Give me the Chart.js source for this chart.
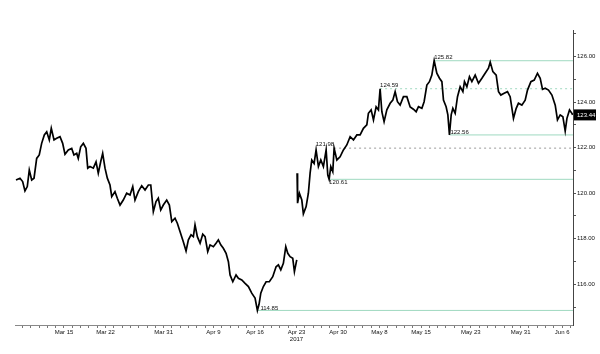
<!DOCTYPE html>
<html><head><meta charset="utf-8">
<script src="https://cdn.jsdelivr.net/npm/chart.js@4.4.0/dist/chart.umd.min.js"></script>
<style>html,body{margin:0;padding:0;background:#fff;}#wrap{width:600px;height:354px;}</style>
</head><body><div id="wrap"><canvas id="c" width="600" height="354"></canvas></div>
<script>
// ---- data (x = trading-day index, Mar 15 = 0) ----
const days1 = [-5.78,-5.30,-4.98,-4.70,-4.42,-4.18,-3.89,-3.61,-3.29,-2.98,
-2.69,-2.37,-2.08,-1.77,-1.53,-1.20,-0.88,-0.48,-0.16,0.12,
0.52,0.93,1.20,1.53,1.72,2.01,2.33,2.65,2.86,3.13,
3.53,3.86,4.13,4.42,4.66,4.94,5.22,5.54,5.75,6.14,
6.42,6.75,7.14,7.55,7.95,8.28,8.55,8.95,9.36,9.76,
10.16,10.45,10.76,11.08,11.36,11.65,11.96,12.37,12.69,12.98,
13.37,13.65,13.98,14.37,14.70,14.98,15.30,15.58,15.78,16.06,
16.39,16.71,16.99,17.31,17.59,17.99,18.31,18.59,18.88,19.19,
19.52,19.80,20.00,20.33,20.72,21.00,21.41,21.81,22.21,22.61,
23.01,23.29,23.49,23.70,24.01,24.34,24.73,25.14,25.54,25.82,
26.11,26.42,26.71,26.95,27.23,27.55,27.75,28.03];
const prices1 = [120.58,120.66,120.51,120.10,120.29,121.02,120.58,120.66,121.53,121.68,
122.19,122.56,122.70,122.34,122.85,122.34,122.41,122.48,122.19,121.71,
121.90,121.97,121.68,121.75,121.53,122.04,122.19,121.97,121.10,121.17,
121.10,121.38,120.88,121.38,121.75,121.10,120.66,120.36,119.85,120.07,
119.78,119.48,119.70,120.00,119.92,120.29,119.70,120.07,120.33,120.14,
120.36,120.36,119.19,119.63,119.78,119.26,119.48,119.70,119.48,118.75,
118.90,118.68,118.31,117.87,117.46,117.95,118.17,118.09,118.61,118.09,
117.80,118.20,118.09,117.43,117.73,117.65,117.80,117.95,117.73,117.58,
117.36,116.99,116.41,116.11,116.41,116.26,116.19,116.04,115.90,115.61,
115.39,114.85,115.12,115.61,115.90,116.11,116.11,116.33,116.77,116.85,
116.63,116.92,117.65,117.36,117.21,117.14,116.55,117.07];
const days2 = [28.07,28.13,28.35,28.64,28.83,29.16,29.43,29.64,29.84,30.12,
30.36,30.64,30.93,31.24,31.57,31.77,31.93,32.13,32.37,32.53,
32.86,33.25,33.65,34.06,34.46,34.86,35.27,35.66,36.06,36.47,
36.66,36.99,37.27,37.59,37.87,38.07,38.28,38.55,38.88,39.28,
39.60,39.88,40.16,40.48,40.88,41.29,41.69,42.08,42.41,42.69,
43.10,43.37,43.70,44.01,44.30,44.58,44.90,45.22,45.51,45.70,
46.02,46.23,46.42,46.63,46.83,47.11,47.39,47.71,48.04,48.23,
48.52,48.83,49.12,49.52,49.92,50.33,50.72,51.12,51.33,51.65,
52.05,52.33,52.61,53.01,53.41,53.73,54.13,54.46,54.73,55.14,
55.54,55.82,56.23,56.63,57.02,57.35,57.63,57.95,58.35,58.76,
59.16,59.43,59.76,60.08,60.36,60.57,60.88,61.17,61.26];
const prices2 = [120.88,119.56,120.00,119.70,119.09,119.41,120.00,120.88,121.46,121.31,
121.90,121.17,121.46,121.17,121.90,120.80,120.61,121.17,120.95,121.98,
121.46,121.60,121.90,122.12,122.48,122.34,122.56,122.56,122.85,123.00,
123.51,123.66,123.22,123.80,123.66,124.59,123.58,123.14,123.66,123.95,
124.09,124.46,124.02,123.87,124.24,124.24,123.79,123.69,123.58,123.80,
123.73,124.02,124.75,124.90,125.19,125.82,125.27,125.05,124.90,124.09,
123.80,123.44,122.56,123.44,123.73,123.51,124.24,124.68,124.46,124.90,
124.68,125.12,124.90,125.19,124.83,125.05,125.27,125.49,125.76,125.34,
125.19,124.46,124.31,124.39,124.46,124.24,123.29,123.73,123.95,123.87,
124.09,124.53,124.90,124.97,125.27,125.05,124.56,124.61,124.53,124.31,
123.87,123.22,123.44,123.36,122.73,123.29,123.66,123.51,123.44];
const tickDays = [0,5,12,18,23,28,33,38,43,49,55,60];
const tickLabels = ['Mar 15','Mar 22','Mar 31','Apr 9','Apr 16',['Apr 23','2017'],'Apr 30','May 8','May 15','May 23','May 31','Jun 6'];
const yLabelValues = [116,118,120,122,124,126];
const levels = [125.82,124.59,122.56,121.98,120.61,114.85];
const levelDays = [44.58,38.07,46.42,32.53,31.93,23.29];
const lastPrice = 123.44;

// ---- styling ----
const X_MIN = -5.9, X_MAX = 61.3, Y_MIN = 114.21, Y_MAX = 127.17;
const GREEN = '#9fd9c0';
const levelStyle = [
  {color:GREEN, dash:[], align:'left', dx:0, dy:-3.5},
  {color:GREEN, dash:[2,3], align:'left', dx:0, dy:-3.5},
  {color:GREEN, dash:[], align:'left', dx:1, dy:-3},
  {color:'#9a9a9a', dash:[2,3], align:'right', dx:0, dy:-3.5},
  {color:GREEN, dash:[], align:'left', dx:0, dy:3.5},
  {color:GREEN, dash:[], align:'left', dx:3, dy:-2}
];
Chart.defaults.font.family = 'Liberation Sans';
Chart.defaults.font.size = 6;
Chart.defaults.color = '#111';

const pts = (ds, vs) => ds.map((d, i) => ({x: d, y: vs[i]}));
const datasets = [
  {data: pts(days1, prices1), borderColor:'#000', borderWidth:1.7, pointRadius:0, tension:0},
  {data: pts(days2, prices2), borderColor:'#000', borderWidth:1.7, pointRadius:0, tension:0}
];
levels.forEach((lv, i) => {
  datasets.push({data:[{x:levelDays[i], y:lv},{x:X_MAX, y:lv}],
    borderColor: levelStyle[i].color, borderDash: levelStyle[i].dash, borderWidth:1, pointRadius:0});
});

const labelPlugin = {
  id:'labels',
  afterDatasetsDraw(chart){
    const {ctx, scales:{x, y}, chartArea} = chart;
    ctx.save();
    ctx.font = '6px "Liberation Sans"';
    ctx.fillStyle = '#111';
    ctx.textBaseline = 'middle';
    levels.forEach((lv, i) => {
      const s = levelStyle[i];
      ctx.textAlign = s.align;
      ctx.fillText(lv.toFixed(2), x.getPixelForValue(levelDays[i]) + s.dx, y.getPixelForValue(lv) + s.dy);
    });
    const py = y.getPixelForValue(lastPrice);
    ctx.fillStyle = '#000';
    ctx.fillRect(chartArea.right + 1, py - 5.5, 22, 11);
    ctx.fillStyle = '#fff';
    ctx.textAlign = 'left';
    ctx.fillText(lastPrice.toFixed(2), chartArea.right + 4, py + 0.5);
    ctx.restore();
  }
};

new Chart(document.getElementById('c'), {
  type:'line',
  data:{datasets},
  plugins:[labelPlugin],
  options:{
    responsive:false, animation:false, events:[],
    layout:{padding:{left:15, top:30, right:0, bottom:0}},
    plugins:{legend:{display:false}, tooltip:{enabled:false}},
    scales:{
      x:{type:'linear', min:X_MIN, max:X_MAX,
        afterBuildTicks(s){ const t=[]; for(let d=-5; d<=61; d++) t.push({value:d}); s.ticks=t; },
        afterFit(s){ s.height = 29; },
        grid:{display:true, drawOnChartArea:false, drawTicks:true, tickLength:3, color:'#777'},
        border:{display:true, color:'#888'},
        ticks:{autoSkip:false, maxRotation:0, padding:1, font:{size:6}, color:'#111',
          callback(v){ const k = tickDays.indexOf(v); return k >= 0 ? tickLabels[k] : ''; }}
      },
      y:{type:'linear', position:'right', min:Y_MIN, max:Y_MAX,
        afterBuildTicks(s){ const t=[]; for(let v=115; v<=127; v++) t.push({value:v}); s.ticks=t; },
        afterFit(s){ s.width = 27; },
        grid:{display:true, drawOnChartArea:false, drawTicks:true, tickLength:3, color:'#555'},
        border:{display:true, color:'#444'},
        ticks:{autoSkip:false, padding:1, font:{size:6}, color:'#111',
          callback(v){ return yLabelValues.includes(v) ? v.toFixed(2) : ''; }}
      }
    }
  }
});
</script></body></html>
